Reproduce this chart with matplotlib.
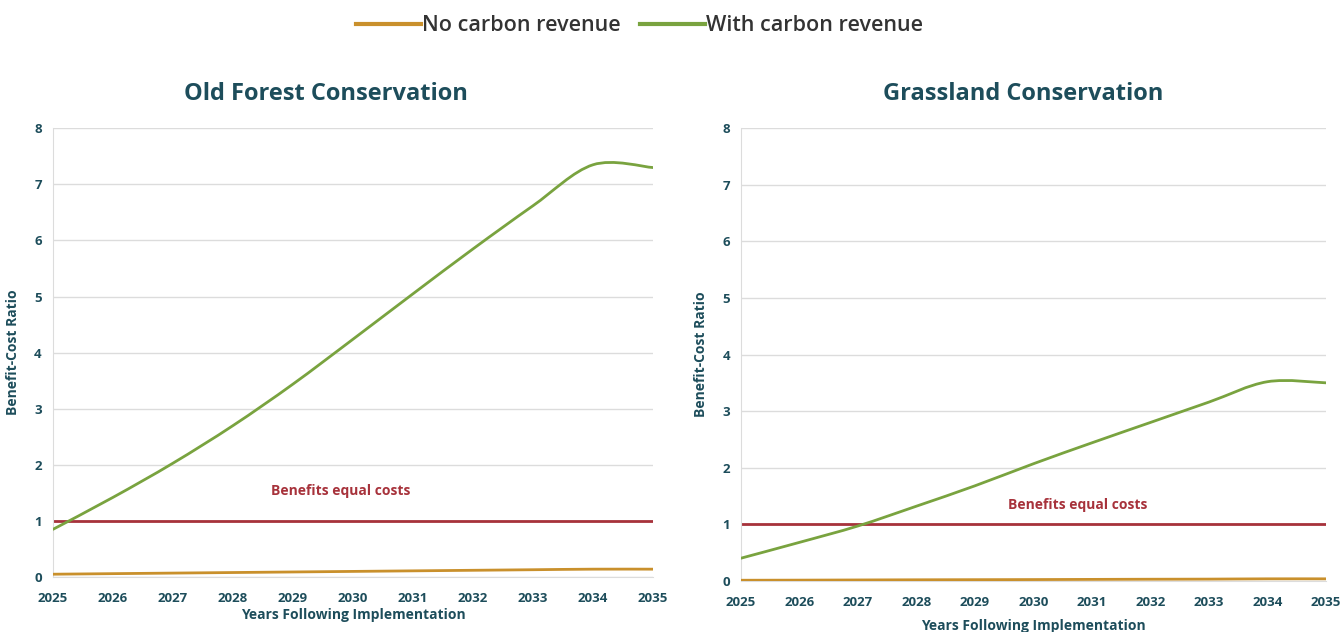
import numpy as np
import matplotlib
matplotlib.use("Agg")
import matplotlib.pyplot as plt
from matplotlib.path import Path
from matplotlib.patches import PathPatch
from matplotlib.lines import Line2D

plt.rcParams['font.family'] = ['Open Sans', 'DejaVu Sans']

years = [2025, 2026, 2027, 2028, 2029, 2030, 2031, 2032, 2033, 2034, 2035]

forest_no_carbon = [0.05, 0.06, 0.07, 0.08, 0.09, 0.10, 0.11, 0.12, 0.13, 0.14, 0.14]
forest_with_carbon = [0.85, 1.42, 2.03, 2.70, 3.44, 4.24, 5.05, 5.85, 6.62, 7.35, 7.30]

grass_no_carbon = [0.01, 0.012, 0.015, 0.018, 0.02, 0.022, 0.025, 0.028, 0.03, 0.035, 0.035]
grass_with_carbon = [0.40, 0.68, 0.97, 1.32, 1.68, 2.07, 2.44, 2.80, 3.16, 3.52, 3.50]

titles = ["Old Forest Conservation", "Grassland Conservation"]
series_names = ["No carbon revenue", "With carbon revenue"]

TEAL = "#1d4d5b"
ORANGE = "#c9902c"
GREEN = "#79a33f"
RED = "#a7323b"
GRID = "#dcdcdc"


def smooth_line(ax, x, y, color, lw=2.0):
    # Excel-style smoothed line: Catmull-Rom segments drawn as cubic Beziers
    x = np.asarray(x, float); y = np.asarray(y, float)
    n = len(x)
    verts = [(x[0], y[0])]; codes = [Path.MOVETO]
    for i in range(n - 1):
        p0 = (x[i - 1], y[i - 1]) if i > 0 else (x[i], y[i])
        p1 = (x[i], y[i]); p2 = (x[i + 1], y[i + 1])
        p3 = (x[i + 2], y[i + 2]) if i + 2 < n else (x[i + 1], y[i + 1])
        c1 = (p1[0] + (p2[0] - p0[0]) / 6, p1[1] + (p2[1] - p0[1]) / 6)
        c2 = (p2[0] - (p3[0] - p1[0]) / 6, p2[1] - (p3[1] - p1[1]) / 6)
        verts += [c1, c2, p2]; codes += [Path.CURVE4] * 3
    ax.add_patch(PathPatch(Path(verts, codes), fill=False, edgecolor=color,
                           lw=lw, capstyle="round", zorder=3))


fig = plt.figure(figsize=(13.41, 6.32), dpi=100)
axes = [fig.add_axes([0.0395, 0.087, 0.4475, 0.710]),
        fig.add_axes([0.5526, 0.081, 0.4362, 0.716])]
data = [(forest_no_carbon, forest_with_carbon, (2029.8, 1.53), 0.243, 2),
        (grass_no_carbon, grass_with_carbon, (2030.75, 1.34), 0.763, 7)]

for ax, title, (no_c, with_c, lab, tx, xpad) in zip(axes, titles, data):
    ax.set_xlim(2025, 2035); ax.set_ylim(0, 8)
    ax.set_yticks(range(0, 9)); ax.set_xticks(years)
    ax.grid(axis="y", color=GRID, lw=1); ax.set_axisbelow(True)
    for s in ["top", "right"]:
        ax.spines[s].set_visible(False)
    ax.spines["left"].set_color(GRID); ax.spines["bottom"].set_color(GRID)
    ax.tick_params(length=0, labelsize=9.5, labelcolor=TEAL, pad=8)
    ax.tick_params(axis="x", pad=11)
    for t in ax.get_xticklabels() + ax.get_yticklabels():
        t.set_fontweight("bold")
    ax.axhline(1, color=RED, lw=2, zorder=2)
    smooth_line(ax, years, no_c, ORANGE)
    smooth_line(ax, years, with_c, GREEN)
    ax.text(lab[0], lab[1], "Benefits equal costs", color=RED, fontsize=10,
            fontweight="bold", ha="center", va="center")
    fig.text(tx, 0.851, title, fontsize=17, fontweight="bold", color=TEAL,
             ha="center", va="center")
    ax.set_ylabel("Benefit-Cost Ratio", fontsize=10, fontweight="bold", color=TEAL, labelpad=10)
    ax.set_xlabel("Years Following Implementation", fontsize=10, fontweight="bold",
                  color=TEAL, labelpad=xpad)

handles = [Line2D([], [], color=ORANGE, lw=3), Line2D([], [], color=GREEN, lw=3)]
fig.legend(handles, series_names, loc="center", bbox_to_anchor=(0.477, 0.959),
           ncol=2, frameon=False, handlelength=3.0, handletextpad=0.05,
           columnspacing=0.9, labelcolor="#333333",
           prop={"size": 15.5, "weight": "semibold"})

fig.savefig("out.png", dpi=100)
